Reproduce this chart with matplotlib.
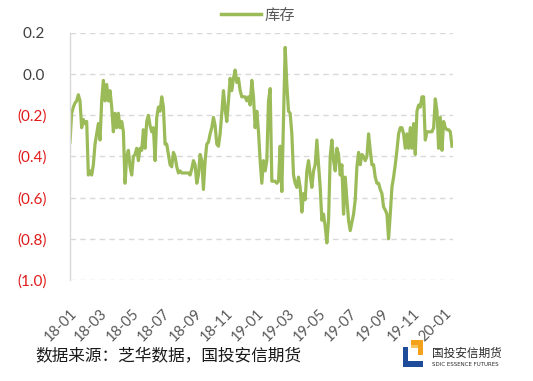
import matplotlib
matplotlib.use("Agg")
import matplotlib.pyplot as plt
import matplotlib.dates as mdates
import matplotlib.patches as mpatches
from matplotlib.lines import Line2D
import pandas as pd
import numpy as np

# ---------------- data ----------------
series_name = "库存"
start_date = "2018-01-01"
end_date = "2020-01-16"
values = [
    -0.33, -0.19, -0.16, -0.14, -0.13, -0.10, -0.13, -0.26, -0.22, -0.24,
    -0.23, -0.49, -0.47, -0.49, -0.44, -0.34, -0.29, -0.24, -0.32, -0.13,
    -0.03, -0.13, -0.05, -0.13, -0.08, -0.16, -0.28, -0.19, -0.26, -0.19,
    -0.26, -0.23, -0.28, -0.53, -0.40, -0.37, -0.45, -0.49, -0.40, -0.39,
    -0.36, -0.42, -0.36, -0.37, -0.27, -0.36, -0.23, -0.20, -0.25, -0.28,
    -0.26, -0.42, -0.21, -0.16, -0.18, -0.11, -0.16, -0.34, -0.34, -0.39,
    -0.44, -0.45, -0.38, -0.40, -0.45, -0.48, -0.47, -0.48, -0.48, -0.48,
    -0.48, -0.48, -0.49, -0.46, -0.42, -0.44, -0.53, -0.49, -0.39, -0.42,
    -0.56, -0.42, -0.34, -0.33, -0.29, -0.26, -0.21, -0.25, -0.34, -0.35,
    -0.29, -0.19, -0.08, -0.17, -0.23, -0.13, -0.02, -0.08, -0.02, 0.02,
    -0.04, -0.02, -0.08, -0.11, -0.11, -0.11, -0.13, -0.11, -0.15, -0.03,
    -0.11, -0.26, -0.18, -0.28, -0.42, -0.53, -0.42, -0.47, -0.42, -0.13,
    -0.07, -0.52, -0.52, -0.52, -0.53, -0.52, -0.35, -0.57, -0.21, 0.13,
    -0.05, -0.18, -0.19, -0.29, -0.49, -0.53, -0.55, -0.50, -0.55, -0.67,
    -0.58, -0.61, -0.47, -0.42, -0.49, -0.55, -0.47, -0.44, -0.32, -0.44,
    -0.55, -0.71, -0.68, -0.74, -0.82, -0.71, -0.40, -0.32, -0.42, -0.47,
    -0.36, -0.39, -0.49, -0.44, -0.68, -0.50, -0.61, -0.71, -0.76, -0.72,
    -0.68, -0.61, -0.45, -0.38, -0.44, -0.39, -0.40, -0.42, -0.40, -0.29,
    -0.37, -0.44, -0.44, -0.50, -0.53, -0.53, -0.56, -0.58, -0.645, -0.66,
    -0.68, -0.80, -0.68, -0.55, -0.50, -0.44, -0.37, -0.29, -0.26, -0.26,
    -0.29, -0.36, -0.29, -0.36, -0.26, -0.36, -0.24, -0.39, -0.18, -0.15,
    -0.16, -0.11, -0.11, -0.32, -0.28, -0.28, -0.28, -0.28, -0.26, -0.12,
    -0.18, -0.36, -0.21, -0.37, -0.23, -0.26, -0.27, -0.27, -0.28, -0.35,
]
dates = pd.date_range(start_date, end_date, periods=len(values))
y_ticks = [0.2, 0.0, -0.2, -0.4, -0.6, -0.8, -1.0]
x_tick_dates = pd.date_range("2018-01-01", "2020-01-01", freq="2MS")
source_text = "数据来源：芝华数据，国投安信期货"
logo_cn = "国投安信期货"
logo_en = "SDIC ESSENCE FUTURES"

# ---------------- style ----------------
W, H = 533, 381
fig = plt.figure(figsize=(W / 100, H / 100), dpi=100)
fig.patch.set_facecolor("white")
cjk = ["Noto Sans CJK SC", "DejaVu Sans"]
numfont = ["Lato", "DejaVu Sans"]
green = "#9BBB59"

ax = fig.add_axes([70 / W, 1 - 280 / H, (453 - 70) / W, (280 - 33) / H])
ax.plot(dates, values, color=green, lw=2.3, solid_joinstyle="round")

ax.set_ylim(-1.0, 0.2)
ax.set_xlim(pd.Timestamp("2018-01-01"), pd.Timestamp("2020-01-18"))
ax.set_yticks(y_ticks)
ylabels = []
for v in y_ticks:
    if v < 0:
        ylabels.append("({:.1f})".format(abs(v)))
    else:
        ylabels.append("{:.1f}\u2009".format(v))
ax.set_yticklabels(ylabels, fontfamily=numfont, fontsize=11)
for lab, v in zip(ax.get_yticklabels(), y_ticks):
    lab.set_color("#E01A1A" if v < 0 else "#404040")
ax.tick_params(axis="y", length=0, pad=17)

ax.set_xticks(x_tick_dates)
ax.xaxis.set_major_formatter(mdates.DateFormatter("%y-%m"))
ax.tick_params(axis="x", length=0, pad=19, labelsize=10.5, labelcolor="#595959")
for lab in ax.get_xticklabels():
    lab.set_rotation(45)
    lab.set_ha("right")
    lab.set_va("top")
    lab.set_rotation_mode("anchor")
    lab.set_fontfamily(numfont)

for v in y_ticks:
    ax.axhline(v, color="#D9D9D9", lw=1.0, ls=(0, (4, 3)), zorder=0)

for s in ["top", "right", "bottom"]:
    ax.spines[s].set_visible(False)
ax.spines["left"].set_color("#D9D9D9")
ax.spines["left"].set_linewidth(1.0)

# legend
handle = Line2D([], [], color=green, lw=2.5)
fig.legend([handle], [series_name], loc="center", bbox_to_anchor=(258 / W, 1 - 15 / H),
           frameon=False, prop={"family": cjk, "size": 11}, handlelength=2.6,
           handletextpad=0.2, labelcolor="#595959")

# source text
fig.text(35 / W, 1 - 356 / H, source_text, fontfamily=cjk, fontsize=12,
         color="#1a1a1a", ha="left", va="center")

# logo
def fx(x):
    return x / W

def fy(y):
    return 1 - y / H

def rect(x0, y0, x1, y1, color):
    fig.patches.append(mpatches.Rectangle((fx(x0), fy(y1)), (x1 - x0) / W, (y1 - y0) / H,
                                          transform=fig.transFigure, color=color, lw=0))

rect(403, 347, 423, 367, "#1E4C9A")
rect(408, 347, 423, 361, "white")
rect(411, 340, 423, 345, "#F4A21C")
rect(418, 340, 423, 355, "#F4A21C")
rect(411, 345, 418, 348, "#F7C463")
fig.text(fx(432), fy(353), logo_cn, fontfamily=cjk, fontsize=8.4,
         color="#2a2a2a", ha="left", va="center")
fig.text(fx(432), fy(364), logo_en, fontfamily=["DejaVu Sans"], fontsize=4.0,
         color="#2a2a2a", ha="left", va="center")

fig.savefig("out.png", dpi=100, facecolor="white")
